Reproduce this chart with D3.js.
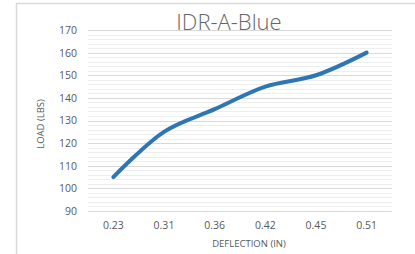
<!DOCTYPE html>
<html><head><meta charset="utf-8">
<script src="https://cdn.jsdelivr.net/npm/d3@7"></script>
<style>html,body{margin:0;padding:0;background:#fff;}svg{display:block;}</style>
</head><body>
<svg id="c" width="415" height="254"></svg>
<script>
const categories = ["0.23","0.31","0.36","0.42","0.45","0.51"];
const loadValues = [105,125,135,145,150,160];
const yTicks = [90,100,110,120,130,140,150,160,170];
const minorTicks = d3.range(90,170.1,2);
const title = "IDR-A-Blue";
const xTitle = "DEFLECTION (IN)";
const yTitle = "LOAD (LBS)";

(function(){
const svg = d3.select("#c");
const font = "'Open Sans', sans-serif";
const pl = 88, pr = 392, pt = 30, pb = 211;

// frame
svg.append("line").attr("x1",16).attr("x2",415).attr("y1",3.5).attr("y2",3.5).attr("stroke","#d9d9d9").attr("stroke-width",1.5);
svg.append("line").attr("x1",16.5).attr("x2",16.5).attr("y1",3).attr("y2",254).attr("stroke","#d9d9d9").attr("stroke-width",1.5);

const x = d3.scaleBand().domain(categories).range([pl,pr]);
const y = d3.scaleLinear().domain([90,170]).range([pb,pt]);

svg.append("g").selectAll("line").data(minorTicks.filter(v=>v%10!==0)).join("line")
  .attr("x1",pl).attr("x2",pr).attr("y1",d=>Math.round(y(d))+0.5).attr("y2",d=>Math.round(y(d))+0.5)
  .attr("stroke","#eeeeee").attr("stroke-width",1);
svg.append("g").selectAll("line").data(yTicks).join("line")
  .attr("x1",pl).attr("x2",pr).attr("y1",d=>Math.round(y(d))+0.5).attr("y2",d=>Math.round(y(d))+0.5)
  .attr("stroke","#d9d9d9").attr("stroke-width",1);

const yAxis = d3.axisLeft(y).tickValues(yTicks).tickSize(0).tickPadding(11);
const ga = svg.append("g").attr("transform",`translate(${pl},0)`).call(yAxis);
ga.select(".domain").remove();
ga.selectAll("text").attr("fill","#595959").style("font-family",font).style("font-size","10.5px");

const xAxis = d3.axisBottom(x).tickSize(0).tickPadding(11);
const gx = svg.append("g").attr("transform",`translate(0,${pb})`).call(xAxis);
gx.select(".domain").remove();
gx.selectAll("text").attr("fill","#595959").style("font-family",font).style("font-size","10.5px");

const line = d3.line().x((d,i)=>x(categories[i])+x.bandwidth()/2).y(d=>y(d)).curve(d3.curveCatmullRom.alpha(0.5));
svg.append("path").datum(loadValues).attr("d",line).attr("fill","none")
  .attr("stroke","#2e75b6").attr("stroke-width",4).attr("stroke-linecap","round").attr("stroke-linejoin","round");

svg.append("text").attr("x",229).attr("y",30).attr("text-anchor","middle")
  .attr("fill","#666666").style("font-family",font).style("font-weight","300").style("font-size","22px").text(title);
svg.append("text").attr("x",249).attr("y",247).attr("text-anchor","middle")
  .attr("fill","#595959").style("font-family",font).style("font-size","9.5px").text(xTitle);
svg.append("text").attr("transform","translate(44,124) rotate(-90)").attr("text-anchor","middle")
  .attr("fill","#595959").style("font-family",font).style("font-size","9.5px").text(yTitle);
})();
</script>
</body></html>
